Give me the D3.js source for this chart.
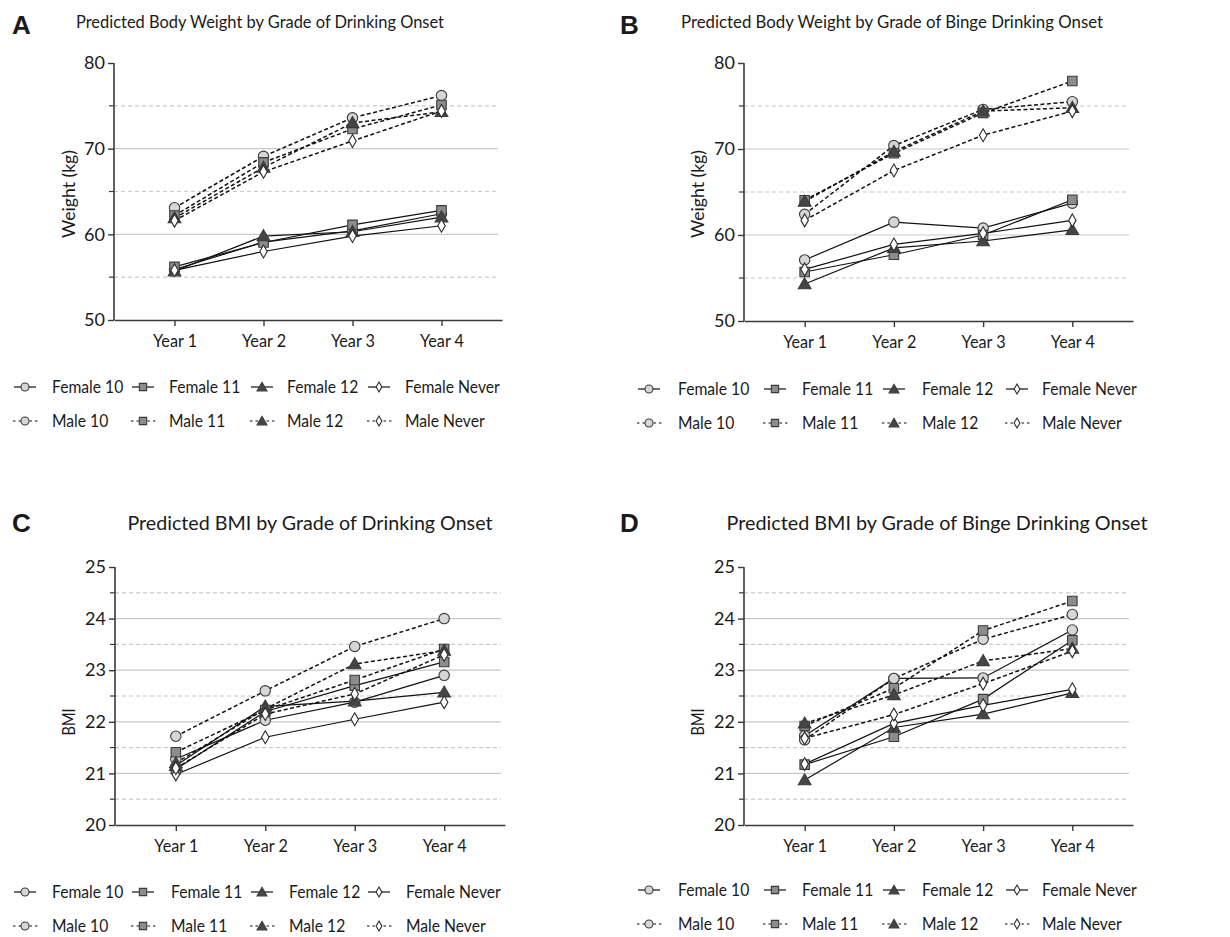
<!DOCTYPE html>
<html><head><meta charset="utf-8">
<script src="https://cdn.jsdelivr.net/npm/d3@7"></script>
<style>
html,body{margin:0;padding:0;background:#fff;}
text{font-family:Lato,"Open Sans",sans-serif;fill:#1a1a1a;}
</style></head>
<body>
<svg id="chart" width="1230" height="937"></svg>
<script>
// ---------- data ----------
const years = ["Year 1", "Year 2", "Year 3", "Year 4"];
const seriesNames = ["Female 10", "Female 11", "Female 12", "Female Never",
                     "Male 10", "Male 11", "Male 12", "Male Never"];
const weightTicks = [50, 60, 70, 80];
const weightHalfTicks = [55, 65, 75];
const bmiTicks = [20, 21, 22, 23, 24, 25];
const bmiHalfTicks = [20.5, 21.5, 22.5, 23.5, 24.5];

// order follows seriesNames
const weightDrinking = [
  [55.9, 59.1, 60.4, 62.4],
  [56.2, 59.05, 61.1, 62.8],
  [55.7, 59.8, 60.3, 62.0],
  [55.8, 58.0, 59.8, 61.0],
  [63.1, 69.1, 73.6, 76.2],
  [62.2, 68.4, 72.3, 75.1],
  [61.9, 67.8, 73.0, 74.3],
  [61.6, 67.3, 70.9, 74.4]
];
const weightBinge = [
  [57.1, 61.5, 60.8, 63.7],
  [55.7, 57.7, 60.0, 64.1],
  [54.3, 58.5, 59.3, 60.6],
  [56.0, 58.9, 60.2, 61.7],
  [62.4, 70.4, 74.6, 75.5],
  [64.05, 69.5, 74.2, 77.9],
  [63.9, 69.7, 74.4, 74.8],
  [61.7, 67.5, 71.6, 74.4]
];
const bmiDrinking = [
  [21.28, 22.03, 22.38, 22.90],
  [21.08, 22.20, 22.70, 23.16],
  [21.15, 22.30, 22.40, 22.57],
  [20.98, 21.70, 22.05, 22.38],
  [21.72, 22.60, 23.46, 24.00],
  [21.41, 22.23, 22.81, 23.41],
  [21.20, 22.25, 23.12, 23.38],
  [21.10, 22.15, 22.54, 23.30]
];
const bmiBinge = [
  [21.73, 22.84, 22.85, 23.78],
  [21.17, 21.71, 22.44, 23.58],
  [20.87, 21.89, 22.15, 22.56],
  [21.18, 21.97, 22.32, 22.63],
  [21.65, 22.84, 23.60, 24.08],
  [21.92, 22.65, 23.77, 24.34],
  [21.97, 22.52, 23.18, 23.42],
  [21.68, 22.14, 22.74, 23.37]
];

// ---------- styling ----------
const shapes = ["circle", "square", "triangle", "diamond"];
const fills = {circle: "#d6d6d6", square: "#8c8c8c", triangle: "#454545", diamond: "#ffffff"};
const symType = {circle: d3.symbolCircle, square: d3.symbolSquare, triangle: d3.symbolTriangle, diamond: d3.symbolDiamond};
const symSize = {circle: 85, square: 90, triangle: 70, diamond: 48};
const gridColor = "#c9c9c9";
const axisColor = "#3a3a3a";
const narrow = 0.87; // Calibri-like narrowing of Lato

const svg = d3.select("#chart");

function squeeze(sel, factor) {
  sel.each(function() {
    const len = this.getComputedTextLength();
    d3.select(this).attr("textLength", len * factor).attr("lengthAdjust", "spacingAndGlyphs");
  });
}

const panels = [
  {letter: "A", title: "Predicted Body Weight by Grade of Drinking Onset", titleX: 260, titleY: 28, titleW: 368, titleSize: 17,
   letterX: 12, letterY: 34, ylabel: "Weight  (kg)", ylabelX: 69, ylabelY: 194, ylabelW: 88,
   data: weightDrinking, ticks: weightTicks, half: weightHalfTicks, domain: [50, 80],
   left: 114, right: 502, top: 63, bottom: 320,
   legMarkers: [25, 143, 262, 379], legText: [52, 169, 287, 405], legRows: [387, 421]},
  {letter: "B", title: "Predicted Body Weight by Grade of Binge Drinking Onset", titleX: 892, titleY: 28, titleW: 422, titleSize: 17,
   letterX: 620, letterY: 34, ylabel: "Weight  (kg)", ylabelX: 698, ylabelY: 194, ylabelW: 88,
   data: weightBinge, ticks: weightTicks, half: weightHalfTicks, domain: [50, 80],
   left: 744, right: 1133, top: 63, bottom: 321,
   legMarkers: [649, 775, 894, 1017], legText: [678, 802, 922, 1042], legRows: [389, 423]},
  {letter: "C", title: "Predicted BMI by Grade of Drinking Onset", titleX: 310, titleY: 530, titleW: 365, titleSize: 18.5,
   letterX: 12, letterY: 532, ylabel: "BMI", ylabelX: 69, ylabelY: 722, ylabelW: 27,
   data: bmiDrinking, ticks: bmiTicks, half: bmiHalfTicks, domain: [20, 25],
   left: 115, right: 505, top: 567, bottom: 825,
   legMarkers: [25, 143, 262, 379], legText: [52, 171, 289, 406], legRows: [892, 926]},
  {letter: "D", title: "Predicted BMI by Grade of Binge Drinking Onset", titleX: 937, titleY: 530, titleW: 421, titleSize: 18.5,
   letterX: 620, letterY: 532, ylabel: "BMI", ylabelX: 698, ylabelY: 722, ylabelW: 27,
   data: bmiBinge, ticks: bmiTicks, half: bmiHalfTicks, domain: [20, 25],
   left: 744, right: 1133, top: 567, bottom: 825,
   legMarkers: [649, 775, 894, 1017], legText: [678, 802, 922, 1042], legRows: [890, 924]}
];

function drawMarker(g, shape, x, y, scale) {
  g.append("path")
    .attr("d", d3.symbol().type(symType[shape]).size(symSize[shape] * (scale || 1))())
    .attr("transform", `translate(${x},${y + (shape === "triangle" ? 1 : 0)})`)
    .attr("fill", fills[shape])
    .attr("stroke", shape === "diamond" ? "#2a2a2a" : "#3a3a3a")
    .attr("stroke-width", 1.1);
}

panels.forEach(p => {
  const g = svg.append("g");
  const x = d3.scalePoint().domain(years).range([p.left, p.right]).padding(0.68);
  const y = d3.scaleLinear().domain(p.domain).range([p.bottom, p.top]);

  // letter + title
  g.append("text").attr("x", p.letterX).attr("y", p.letterY)
    .style("font-family", "Liberation Sans, Arial, sans-serif")
    .attr("font-weight", "bold").attr("font-size", 26).text(p.letter);
  g.append("text").attr("x", p.titleX).attr("y", p.titleY)
    .attr("text-anchor", "middle").attr("font-size", p.titleSize)
    .attr("textLength", p.titleW).attr("lengthAdjust", "spacingAndGlyphs")
    .text(p.title);

  // grid
  g.selectAll(".gmaj").data(p.ticks.filter(t => t !== p.domain[0] && t !== p.domain[1])).enter()
    .append("line").attr("x1", p.left).attr("x2", p.right - 4)
    .attr("y1", d => y(d)).attr("y2", d => y(d))
    .attr("stroke", gridColor).attr("stroke-width", 1.2);
  g.selectAll(".gmin").data(p.half).enter()
    .append("line").attr("x1", p.left).attr("x2", p.right - 4)
    .attr("y1", d => y(d)).attr("y2", d => y(d))
    .attr("stroke", gridColor).attr("stroke-width", 1.2).attr("stroke-dasharray", "4,3");

  // axes
  const yAxis = g.append("g").attr("transform", `translate(${p.left},0)`)
    .call(d3.axisLeft(y).tickValues(p.ticks).tickSize(6).tickPadding(3).tickSizeOuter(0).tickFormat(d3.format("d")));
  yAxis.select(".domain").remove();
  yAxis.selectAll("line").attr("stroke", axisColor).attr("stroke-width", 1.4);
  yAxis.selectAll("text").attr("font-size", 18).style("font-family", "Lato,sans-serif").attr("fill", "#1a1a1a");
  g.selectAll(".mt").data(p.half).enter().append("line")
    .attr("x1", p.left - 5).attr("x2", p.left).attr("y1", d => y(d)).attr("y2", d => y(d))
    .attr("stroke", axisColor).attr("stroke-width", 1.2);
  g.append("line").attr("x1", p.left).attr("x2", p.left).attr("y1", p.top).attr("y2", p.bottom)
    .attr("stroke", axisColor).attr("stroke-width", 1.6);

  const xAxis = g.append("g").attr("transform", `translate(0,${p.bottom})`)
    .call(d3.axisBottom(x).tickSize(6).tickPadding(8).tickSizeOuter(0));
  xAxis.select(".domain").attr("stroke", axisColor).attr("stroke-width", 1.6);
  xAxis.selectAll("line").attr("stroke", axisColor).attr("stroke-width", 1.4);
  xAxis.selectAll("text").attr("font-size", 18).style("font-family", "Lato,sans-serif").attr("fill", "#1a1a1a")
    .call(squeeze, 0.9);

  // y label
  g.append("text").attr("transform", `translate(${p.ylabelX},${p.ylabelY}) rotate(-90)`)
    .attr("text-anchor", "middle").attr("dy", "0.35em").attr("font-size", 17)
    .attr("textLength", p.ylabelW).attr("lengthAdjust", "spacingAndGlyphs").text(p.ylabel);

  // series lines
  const line = d3.line().x((d, i) => x(years[i])).y(d => y(d));
  p.data.forEach((vals, si) => {
    const male = si >= 4;
    g.append("path").datum(vals).attr("d", line)
      .attr("fill", "none").attr("stroke", "#111")
      .attr("stroke-width", male ? 1.5 : 1.2)
      .attr("stroke-dasharray", male ? "4,2.5" : null);
  });
  p.data.forEach((vals, si) => {
    const shape = shapes[si % 4];
    vals.forEach((v, i) => drawMarker(g, shape, x(years[i]), y(v)));
  });

  // legend
  seriesNames.forEach((name, si) => {
    const col = si % 4, row = Math.floor(si / 4);
    const mx = p.legMarkers[col], my = p.legRows[row];
    const shape = shapes[col];
    if (row === 0) {
      g.append("line").attr("x1", mx - 11).attr("x2", mx + 11).attr("y1", my).attr("y2", my)
        .attr("stroke", "#111").attr("stroke-width", 1.2);
    } else {
      g.append("line").attr("x1", mx - 12).attr("x2", mx + 13).attr("y1", my).attr("y2", my)
        .attr("stroke", "#111").attr("stroke-width", 1.2).attr("stroke-dasharray", "2.5,3");
    }
    drawMarker(g, shape, mx, my, 0.6);
    g.append("text").attr("x", p.legText[col]).attr("y", my).attr("dy", "0.36em")
      .attr("font-size", 18).text(name).call(squeeze, narrow);
  });
});
</script>
</body></html>
